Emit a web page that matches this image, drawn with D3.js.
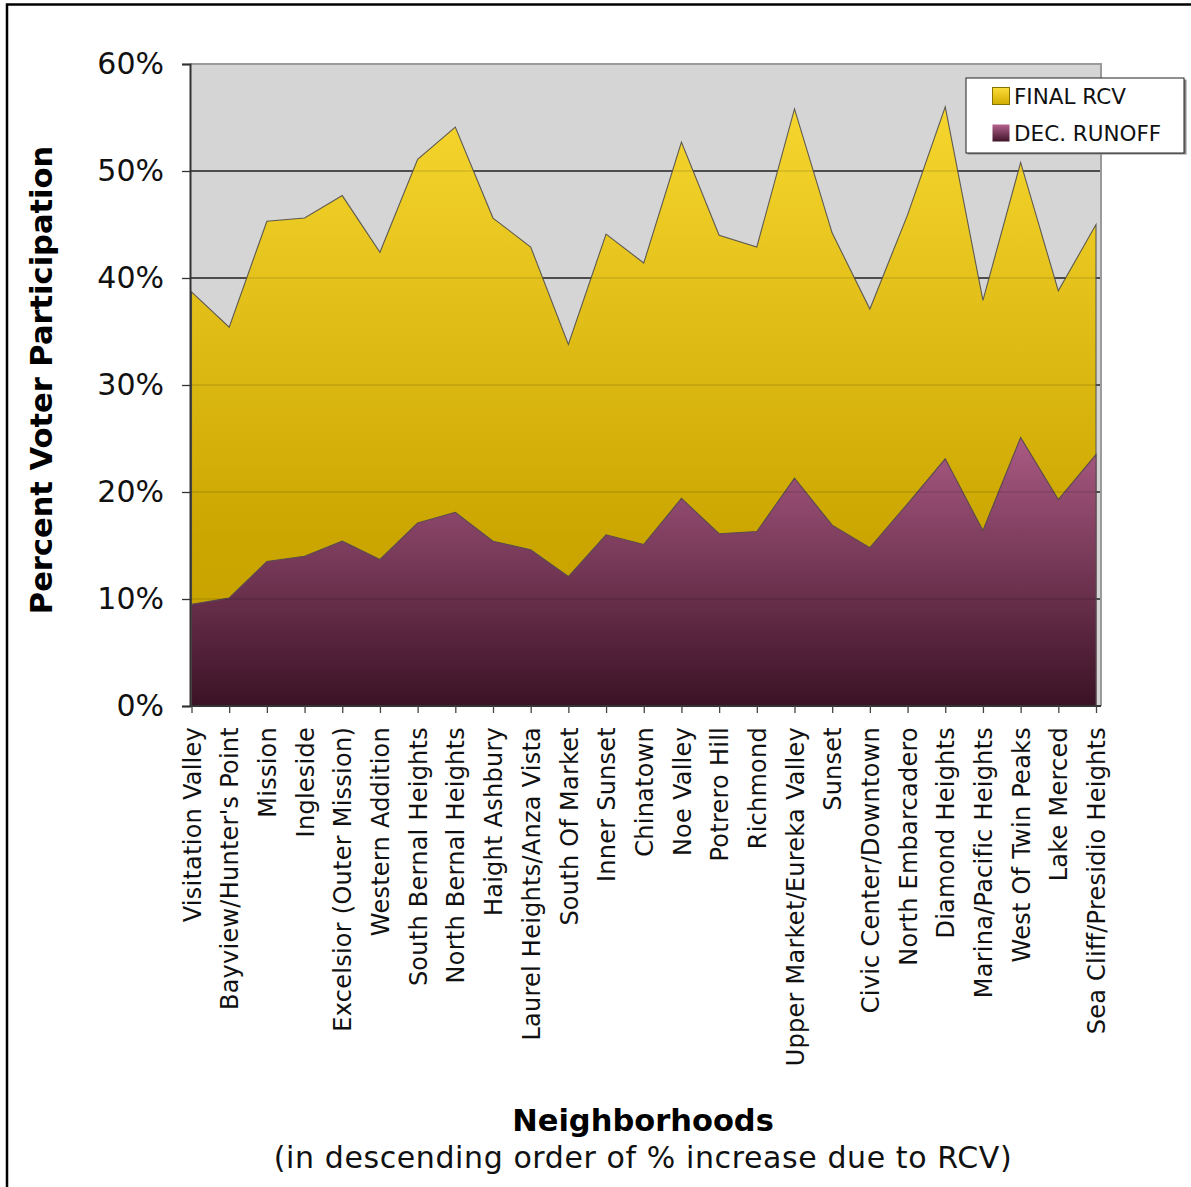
<!DOCTYPE html>
<html>
<head>
<meta charset="utf-8">
<script src="https://cdn.jsdelivr.net/npm/d3@7"></script>
<style>
  html, body { margin: 0; padding: 0; background: #fff; }
  svg { display: block; font-family: "DejaVu Sans", Verdana, sans-serif; }
</style>
</head>
<body>
<svg id="chart" width="1191" height="1187"></svg>
<script>
// neighborhoods, in descending order of % increase due to RCV
const neighborhoods = [
  "Visitation Valley", "Bayview/Hunter's Point", "Mission", "Ingleside",
  "Excelsior (Outer Mission)", "Western Addition", "South Bernal Heights",
  "North Bernal Heights", "Haight Ashbury", "Laurel Heights/Anza Vista",
  "South Of Market", "Inner Sunset", "Chinatown", "Noe Valley", "Potrero Hill",
  "Richmond", "Upper Market/Eureka Valley", "Sunset", "Civic Center/Downtown",
  "North Embarcadero", "Diamond Heights", "Marina/Pacific Heights",
  "West Of Twin Peaks", "Lake Merced", "Sea Cliff/Presidio Heights"
];

// percent turnout
const finalRcv = [38.7, 35.4, 45.3, 45.6, 47.7, 42.4, 51.1, 54.1, 45.6, 42.9,
  33.8, 44.1, 41.4, 52.7, 44.0, 42.9, 55.8, 44.2, 37.1, 45.9, 56.0, 37.9, 50.8, 38.8, 45.0];
const decRunoff = [9.5, 10.1, 13.5, 14.0, 15.4, 13.7, 17.1, 18.1, 15.4, 14.6,
  12.1, 16.0, 15.1, 19.4, 16.1, 16.3, 21.3, 16.9, 14.8, 18.9, 23.1, 16.4, 25.1, 19.3, 23.5];

const yTicks = [0, 10, 20, 30, 40, 50, 60];
const seriesNames = ["FINAL RCV", "DEC. RUNOFF"];

const svg = d3.select("#chart");

const plot = { left: 190, right: 1101, top: 64, bottom: 706 };

const x = d3.scalePoint()
  .domain(neighborhoods)
  .range([191.5, 1096]);

const y = d3.scaleLinear()
  .domain([0, 60])
  .range([plot.bottom, plot.top]);

// gradients
const defs = svg.append("defs");
const gold = defs.append("linearGradient")
  .attr("id", "gold")
  .attr("gradientUnits", "userSpaceOnUse")
  .attr("x1", 0).attr("x2", 0)
  .attr("y1", y(56)).attr("y2", y(0));
gold.append("stop").attr("offset", 0).attr("stop-color", "#f6d62e");
gold.append("stop").attr("offset", 0.72).attr("stop-color", "#cba600");
gold.append("stop").attr("offset", 1).attr("stop-color", "#c6a200");

const plum = defs.append("linearGradient")
  .attr("id", "plum")
  .attr("gradientUnits", "userSpaceOnUse")
  .attr("x1", 0).attr("x2", 0)
  .attr("y1", y(25)).attr("y2", y(0));
plum.append("stop").attr("offset", 0).attr("stop-color", "#aa5a83");
plum.append("stop").attr("offset", 1).attr("stop-color", "#3b1225");

const goldSw = defs.append("linearGradient")
  .attr("id", "goldSw").attr("x1", 0).attr("x2", 0).attr("y1", 0).attr("y2", 1);
goldSw.append("stop").attr("offset", 0).attr("stop-color", "#fbdc3a");
goldSw.append("stop").attr("offset", 1).attr("stop-color", "#d2ad00");

const plumSw = defs.append("linearGradient")
  .attr("id", "plumSw").attr("x1", 0).attr("x2", 0).attr("y1", 0).attr("y2", 1);
plumSw.append("stop").attr("offset", 0).attr("stop-color", "#b5628f");
plumSw.append("stop").attr("offset", 1).attr("stop-color", "#3e1428");

// outer frame (left + top edges)
svg.append("path")
  .attr("d", "M7,1187V4.5H1191")
  .attr("fill", "none")
  .attr("stroke", "#000")
  .attr("stroke-width", 2.5);

// plot background
svg.append("rect")
  .attr("x", plot.left)
  .attr("y", plot.top)
  .attr("width", plot.right - plot.left)
  .attr("height", plot.bottom - plot.top)
  .attr("fill", "#d5d5d5");

// gridlines under the areas
svg.append("g")
  .selectAll("line")
  .data(yTicks.slice(1))
  .join("line")
  .attr("x1", plot.left).attr("x2", plot.right)
  .attr("y1", d => y(d)).attr("y2", d => y(d))
  .attr("stroke", "#2a2a2a")
  .attr("stroke-width", 1.3);

const area = d3.area()
  .x((d, i) => x(neighborhoods[i]))
  .y0(y(0))
  .y1(d => y(d));

svg.append("path")
  .datum(finalRcv)
  .attr("d", area)
  .attr("fill", "url(#gold)")
  .attr("stroke", "#5e5a50")
  .attr("stroke-width", 1.1);

svg.append("path")
  .datum(decRunoff)
  .attr("d", area)
  .attr("fill", "url(#plum)")
  .attr("stroke", "#5a4a50")
  .attr("stroke-width", 1.1);

// faint gridlines showing through the fills
svg.append("g")
  .selectAll("line")
  .data(yTicks.slice(1))
  .join("line")
  .attr("x1", plot.left).attr("x2", plot.right)
  .attr("y1", d => y(d)).attr("y2", d => y(d))
  .attr("stroke", "#000")
  .attr("stroke-opacity", 0.12)
  .attr("stroke-width", 1.3);

// plot border (top + right)
svg.append("path")
  .attr("d", `M${plot.left},${plot.top}H${plot.right}V${plot.bottom}`)
  .attr("fill", "none")
  .attr("stroke", "#9a9a9a")
  .attr("stroke-width", 2);

// y axis
const yAxis = svg.append("g")
  .attr("transform", `translate(${plot.left},0)`)
  .call(d3.axisLeft(y).tickValues(yTicks).tickSize(8).tickPadding(18)
    .tickFormat(d => d + "%"));
yAxis.select(".domain").attr("stroke", "#333").attr("stroke-width", 2);
yAxis.selectAll(".tick line").attr("stroke", "#333").attr("stroke-width", 1.3);
yAxis.selectAll("text")
  .attr("font-size", 30)
  .attr("fill", "#111")
  .attr("font-family", "DejaVu Sans, Verdana, sans-serif");

// x axis
const xAxis = svg.append("g")
  .attr("transform", `translate(0,${plot.bottom})`)
  .call(d3.axisBottom(x).tickSize(7).tickSizeOuter(0));
xAxis.select(".domain")
  .attr("d", `M${plot.left},0H${plot.right}`)
  .attr("stroke", "#333").attr("stroke-width", 2);
xAxis.selectAll(".tick line").attr("stroke", "#444").attr("stroke-width", 1.3);
xAxis.selectAll("text")
  .attr("transform", "rotate(-90)")
  .attr("x", -21)
  .attr("y", 0)
  .attr("dy", "0.36em")
  .attr("text-anchor", "end")
  .attr("font-size", 24)
  .attr("letter-spacing", 0.25)
  .attr("fill", "#111")
  .attr("font-family", "DejaVu Sans, Verdana, sans-serif");

// axis titles
svg.append("text")
  .attr("transform", "translate(52,380) rotate(-90)")
  .attr("text-anchor", "middle")
  .attr("font-size", 30.5)
  .attr("font-weight", "bold")
  .attr("fill", "#000")
  .text("Percent Voter Participation");

svg.append("text")
  .attr("x", 643)
  .attr("y", 1131)
  .attr("text-anchor", "middle")
  .attr("font-size", 30.5)
  .attr("font-weight", "bold")
  .attr("fill", "#000")
  .text("Neighborhoods");

svg.append("text")
  .attr("x", 643)
  .attr("y", 1168)
  .attr("text-anchor", "middle")
  .attr("font-size", 30)
  .attr("letter-spacing", 0.6)
  .attr("fill", "#111")
  .text("(in descending order of % increase due to RCV)");

// legend
const legend = svg.append("g").attr("transform", "translate(966,78)");
legend.append("rect")
  .attr("x", 1.5).attr("y", 1.5)
  .attr("width", 219).attr("height", 75)
  .attr("fill", "#888");
legend.append("rect")
  .attr("width", 218).attr("height", 75)
  .attr("fill", "#fff")
  .attr("stroke", "#222")
  .attr("stroke-width", 1);

const items = legend.selectAll("g.item")
  .data(seriesNames)
  .join("g")
  .attr("class", "item")
  .attr("transform", (d, i) => `translate(0,${i * 37})`);
items.append("rect")
  .attr("x", 26.5).attr("y", 9.5)
  .attr("width", 17).attr("height", 17)
  .attr("fill", (d, i) => i ? "url(#plumSw)" : "url(#goldSw)")
  .attr("stroke", (d, i) => i ? "none" : "#8a7200")
  .attr("stroke-width", 1);
items.append("text")
  .attr("x", 48)
  .attr("y", 26)
  .attr("font-size", 21.5)
  .attr("fill", "#111")
  .text(d => d);
</script>
</body>
</html>
